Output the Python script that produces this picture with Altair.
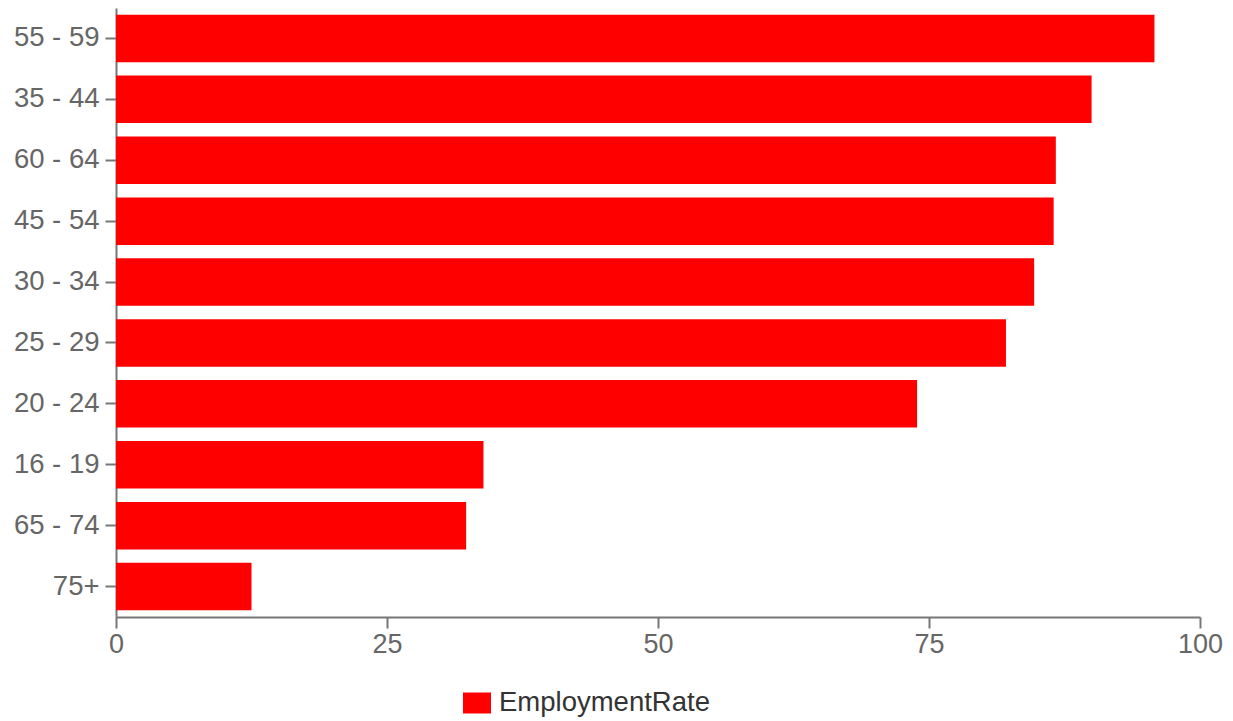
import altair as alt
import pandas as pd

age_groups = ["55 - 59", "35 - 44", "60 - 64", "45 - 54", "30 - 34",
              "25 - 29", "20 - 24", "16 - 19", "65 - 74", "75+"]
employment_rate = [95.8, 90.0, 86.7, 86.5, 84.7, 82.1, 73.9, 33.9, 32.3, 12.5]
series_name = "EmploymentRate"

df = pd.DataFrame({
    "AgeGroup": age_groups,
    "EmploymentRate": employment_rate,
    "Series": [series_name] * len(age_groups),
})

FONT = "Liberation Sans, Arial, sans-serif"

chart = alt.Chart(df).mark_bar().encode(
    y=alt.Y("AgeGroup:N", sort=age_groups, title=None,
            scale=alt.Scale(paddingInner=0.22, paddingOuter=0.11),
            axis=alt.Axis(labelFontSize=27.5, labelColor="#666666", labelFont=FONT,
                          tickSize=11, tickColor="#777777", domainColor="#777777",
                          tickWidth=2, domainWidth=2, labelPadding=6)),
    x=alt.X("EmploymentRate:Q", title=None,
            scale=alt.Scale(domain=[0, 100], nice=False),
            axis=alt.Axis(values=[0, 25, 50, 75, 100], grid=False,
                          labelFontSize=27, labelColor="#666666", labelFont=FONT,
                          tickSize=11, tickColor="#777777", domainColor="#777777",
                          tickWidth=2, domainWidth=2, labelPadding=3, labelFlush=False)),
    color=alt.Color("Series:N", title=None,
                    scale=alt.Scale(range=["#ff0000"]),
                    legend=alt.Legend(orient="none", legendX=347, legendY=681,
                                      symbolType="M-1,-0.75L1,-0.75L1,0.75L-1,0.75Z",
                                      symbolSize=784, symbolStrokeWidth=0,
                                      labelFontSize=27.5, labelColor="#333333",
                                      labelFont=FONT, labelOffset=8, labelLimit=500)),
).properties(
    width=1084,
    height=609,
    autosize=alt.AutoSizeParams(type="none"),
    padding={"left": 108, "top": 0, "right": 25, "bottom": 104},
).configure_view(stroke=None)

chart.save("out.html", embed_options={"renderer": "svg", "actions": False})
